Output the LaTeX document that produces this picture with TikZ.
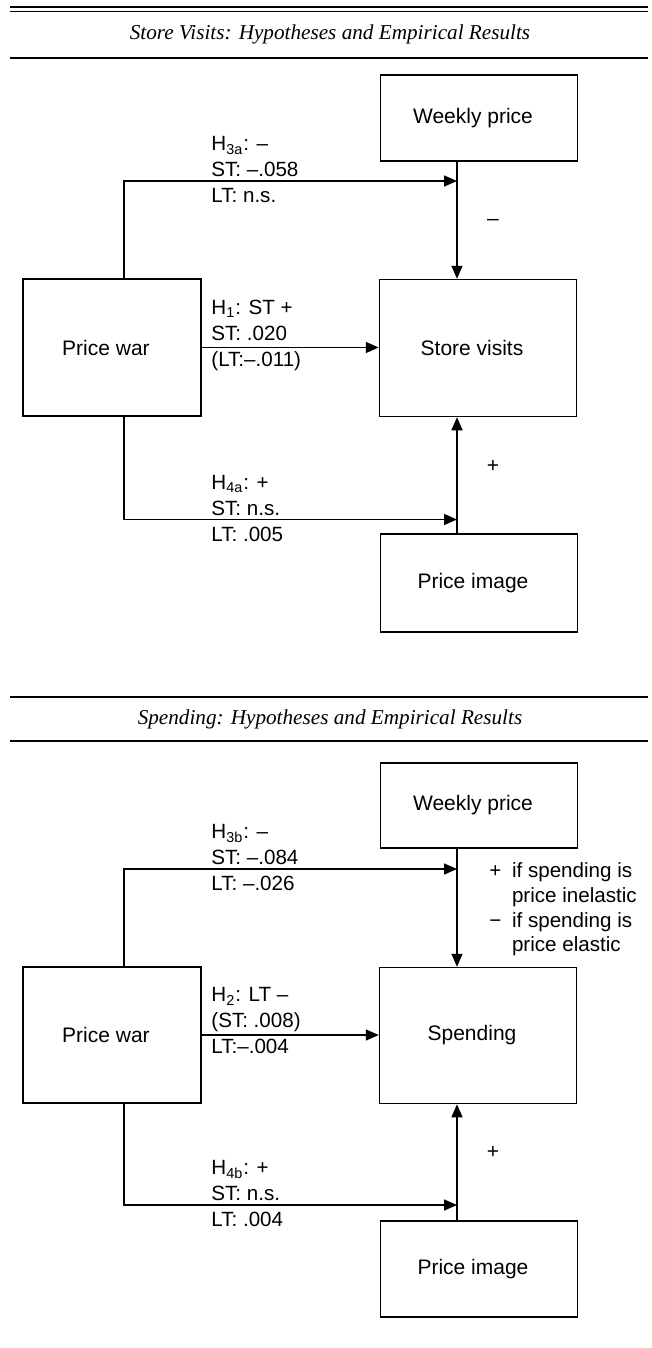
\documentclass[tikz,border=0pt]{standalone}
\usepackage{fontspec}
\setmainfont{Liberation Sans}
\newfontfamily\titlefont{Liberation Serif}
\usetikzlibrary{arrows.meta}
\begin{document}
\begin{tikzpicture}[x=0.5pt,y=-0.5pt,
  box/.style={draw,line width=0.75pt,inner sep=0pt,font=\fontsize{10.5}{13}\selectfont,
    execute at begin node=\hspace*{-6pt}},
  arr/.style={line width=0.75pt,-{Triangle[length=6.5pt,width=5.5pt]}},
  lbl/.style={align=left,anchor=west,inner sep=0pt,font=\fontsize{10.3}{13}\selectfont},
  note/.style={align=left,anchor=west,inner sep=0pt,font=\fontsize{10.3}{12.3}\selectfont},
  sgn/.style={inner sep=0pt,font=\fontsize{10.5}{13}\selectfont},
  hrule/.style={line width=0.7pt},
  ttl/.style={inner sep=0pt,font=\titlefont\itshape\fontsize{10.6}{12}\selectfont}]
\useasboundingbox (0,0) rectangle (652,1348);

% ---------- section 1 ----------
\draw[hrule] (10,7) -- (648,7);
\draw[hrule] (10,11.5) -- (648,11.5);
\node[ttl] (t1) at (330,34) {Store Visits: Hypotheses and Empirical Results};
\draw[hrule] (10,58) -- (648,58);

\node[box,minimum width=98.5pt,minimum height=43pt] (wp1) at (479,118) {Weekly price};
\node[box,minimum width=89pt,minimum height=68.5pt] (pw1) at (112,347.5) {Price war};
\node[box,minimum width=98.5pt,minimum height=68.5pt] (sv1) at (478,348) {Store visits};
\node[box,minimum width=98.5pt,minimum height=49pt] (pi1) at (479,583) {Price image};

\coordinate (c1) at (124,0);
\coordinate (j3a) at (457,181);
\coordinate (j4a) at (457,519.5);

\draw[arr] (pw1.north -| c1) |- (j3a);
\draw[arr] (pw1.south -| c1) |- (j4a);
\draw[arr] (pw1.east) -- (pw1.east -| sv1.west);
\draw[arr] (wp1.south -| j3a) -- (sv1.north -| j3a);
\draw[arr] (pi1.north -| j3a) -- (sv1.south -| j3a);

\node[lbl] (l3a) at (211,170) {H\textsubscript{3a}: –\\ST: –.058\\LT: n.s.};
\node[lbl] (l1) at (211,335.5) {H\textsubscript{1}: ST +\\ST: .020\\(LT:–.011)};
\node[lbl] (l4a) at (211,508.5) {H\textsubscript{4a}: +\\ST: n.s.\\LT: .005};
\node[sgn] (m1) at (493,222) {–};
\node[sgn] (p1) at (493,466) {+};

% ---------- section 2 ----------
\draw[hrule] (10,697) -- (648,697);
\node[ttl] (t2) at (330,719) {Spending: Hypotheses and Empirical Results};
\draw[hrule] (10,741) -- (648,741);

\node[box,minimum width=98.5pt,minimum height=42.5pt] (wp2) at (479,805.5) {Weekly price};
\node[box,minimum width=89pt,minimum height=68pt] (pw2) at (112,1035) {Price war};
\node[box,minimum width=98.5pt,minimum height=68pt] (sp2) at (478,1035.5) {Spending};
\node[box,minimum width=98.5pt,minimum height=48pt] (pi2) at (479,1269) {Price image};

\coordinate (j3b) at (457,869);
\coordinate (j4b) at (457,1205);

\draw[arr] (pw2.north -| c1) |- (j3b);
\draw[arr] (pw2.south -| c1) |- (j4b);
\draw[arr] (pw2.east) -- (pw2.east -| sp2.west);
\draw[arr] (wp2.south -| j3b) -- (sp2.north -| j3b);
\draw[arr] (pi2.north -| j3b) -- (sp2.south -| j3b);

\node[lbl] (l3b) at (211,858) {H\textsubscript{3b}: –\\ST: –.084\\LT: –.026};
\node[lbl] (l2) at (211,1021) {H\textsubscript{2}: LT –\\(ST: .008)\\LT:–.004};
\node[lbl] (l4b) at (211,1193.5) {H\textsubscript{4b}: +\\ST: n.s.\\LT: .004};
\node[note] (n2) at (489,909.5) {\makebox[11.3pt][l]{+}if spending is\\\hspace*{11.3pt}price inelastic\\\makebox[11.3pt][l]{−}if spending is\\\hspace*{11.3pt}price elastic};
\node[sgn] (p2) at (493,1152) {+};
\end{tikzpicture}
\end{document}
